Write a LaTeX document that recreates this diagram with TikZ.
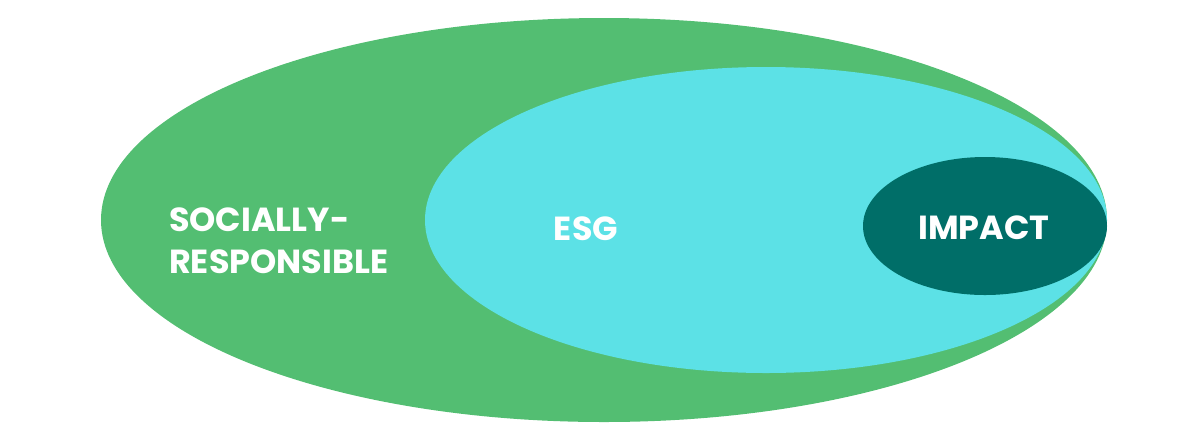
\documentclass[tikz,border=0pt]{standalone}
\usepackage{fontspec}
\setmainfont{Poppins}
\usepackage{tikz}
\usetikzlibrary{positioning, shapes.geometric}

\definecolor{srgreen}{HTML}{53BE72}
\definecolor{esgcyan}{HTML}{5CE1E6}
\definecolor{impactteal}{HTML}{006E68}

\tikzset{
    blob/.style={ellipse, inner sep=0pt, draw=none},
    label/.style={text=white, font=\bfseries\fontsize{19}{24}\selectfont, align=left}
}

\begin{document}
\begin{tikzpicture}[x=0.02cm, y=-0.02cm]
            \useasboundingbox (0, 0) rectangle (1200, 444);
            \node[blob, fill=srgreen, minimum width=1006*0.02cm, minimum height=404*0.02cm] (sr) at (604, 220) {};
            \node[blob, fill=esgcyan, minimum width=682*0.02cm, minimum height=306*0.02cm] (esg) at (766, 220) {};
            \node[blob, fill=impactteal, minimum width=244*0.02cm, minimum height=138*0.02cm] (impact) at (985, 226) {};

            \node[label, anchor=west] (srtext) at (163, 241) {SOCIALLY-\\RESPONSIBLE};
            \node[label] (esgtext) at (586, 229) {ESG};
            \node[label] (impacttext) at (984, 228) {IMPACT};
        \end{tikzpicture}
\end{document}
